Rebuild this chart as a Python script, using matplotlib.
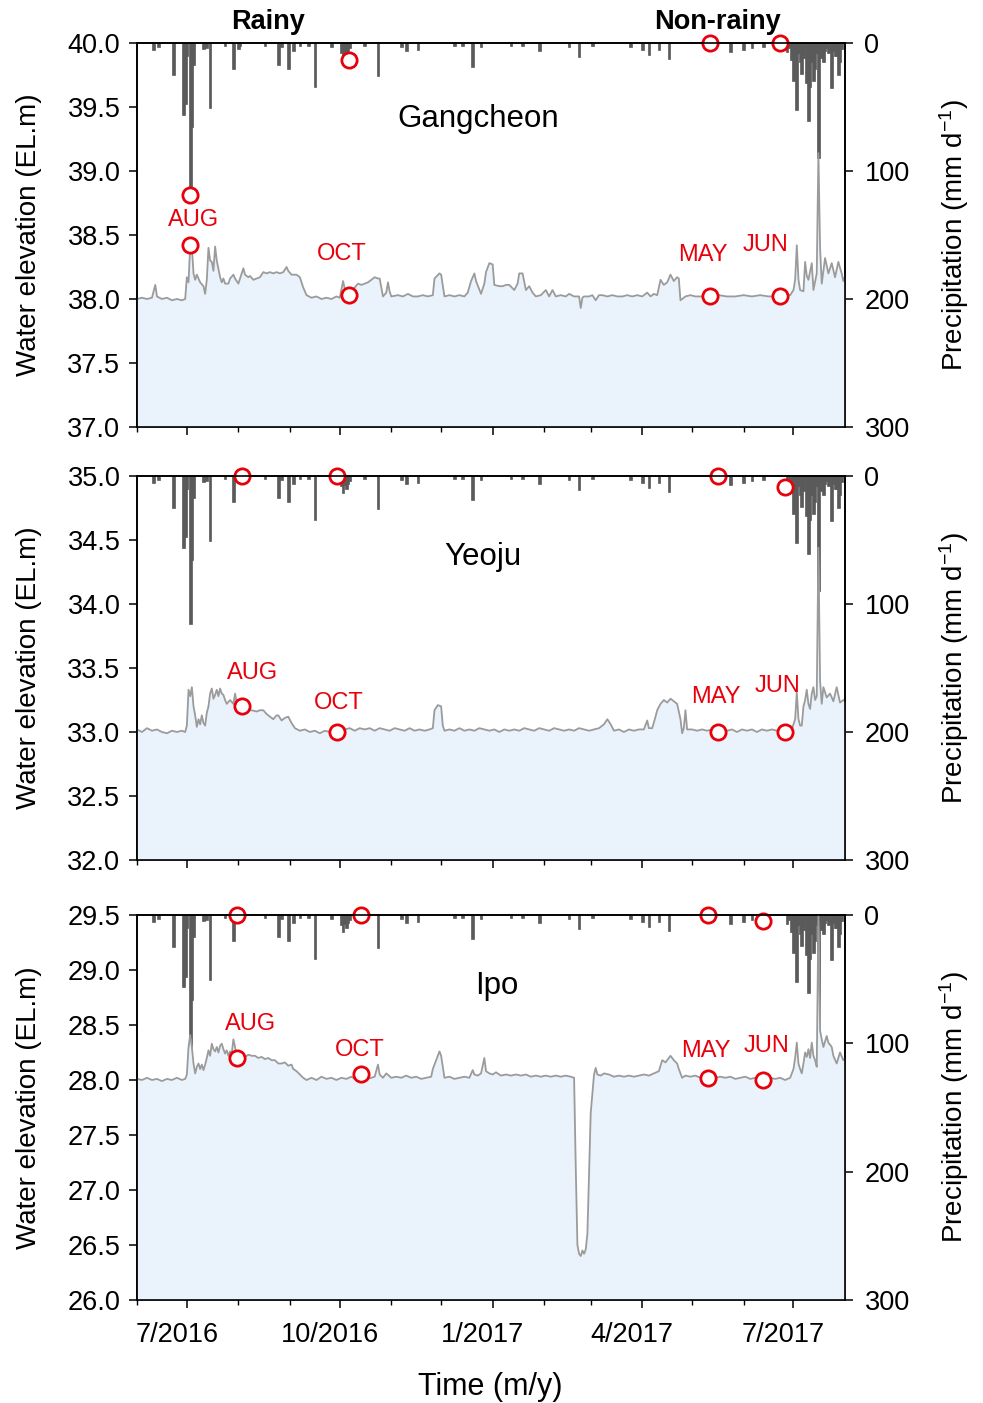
import datetime as dt
import numpy as np
import matplotlib
matplotlib.use("Agg")
import matplotlib.pyplot as plt
import matplotlib.dates as mdates
from matplotlib.ticker import FuncFormatter, FixedLocator, NullFormatter

plt.rcParams['font.family'] = ['Liberation Sans', 'DejaVu Sans']
plt.rcParams['mathtext.default'] = 'regular'

# ---------------- data (days counted from 1 July 2016) ----------------
BASE = dt.date(2016, 7, 1)

rain_day = [-20, -17, -8, -2, -1, 0, 2, 3, 4, 10, 12, 14, 23, 28, 31, 32, 47, 55, 57, 61,
            64, 68, 73, 77, 87, 93, 94, 95, 96, 97, 98, 107, 115, 129, 132, 139, 161, 166,
            172, 177, 195, 202, 212, 230, 236, 244, 267, 274, 278, 284, 290, 327, 335, 340,
            347, 361, 362, 364, 365, 366, 367, 368, 369, 370, 371, 373, 374, 375, 376, 377,
            378, 379, 380, 381, 382, 383, 384, 385, 386, 388, 389, 390, 391, 392, 393, 394]
rain_mm = [5.5, 3, 25, 56, 48, 10, 116, 66, 17, 5, 4, 51, 2, 20, 5, 2, 2, 17, 3, 20,
           6, 2, 2, 34, 3, 8, 13, 7, 10, 6, 4, 2, 26, 3, 6, 5.5, 2, 2,
           18.5, 3, 2, 2, 6, 3, 10.7, 2, 3.5, 5.5, 9.4, 5.5, 12.8, 6.8, 5.5, 4,
           3.4, 6.8, 4, 13, 30, 10, 52, 8, 15, 24, 12, 31, 61, 34, 15, 30,
           20, 8, 90, 5, 12, 15, 6, 4, 8, 35, 6, 10, 10, 25, 15, 5]

gc_day = [-30, -27, -24, -21, -19, -18, -15, -12, -9, -6, -3, -1, 0, 1, 2, 3, 4, 5, 6, 8,
          10, 11, 12, 13, 14, 15, 16, 17, 18, 20, 21, 22, 23, 25, 26, 28, 29, 31, 33, 34,
          35, 37, 38, 40, 42, 44, 46, 48, 50, 52, 54, 56, 58, 60, 61, 63, 66, 68, 70, 72,
          75, 78, 81, 84, 87, 90, 92, 94, 95, 97, 99, 101, 103, 105, 107, 109, 111, 113, 115, 116,
          118, 120, 121, 122, 123, 127, 130, 133, 136, 139, 142, 145, 148, 149, 152, 153, 155, 158, 161, 164,
          167, 169, 171, 173, 174, 177, 179, 180, 182, 184, 185, 188, 190, 192, 194, 197, 199, 200, 202, 204,
          206, 208, 210, 213, 216, 218, 220, 222, 225, 228, 230, 233, 236, 237, 238, 239, 242, 244, 246, 248,
          250, 253, 256, 259, 262, 265, 268, 271, 274, 277, 279, 281, 283, 285, 287, 289, 291, 293, 295, 296,
          297, 300, 303, 306, 310, 315, 320, 325, 330, 335, 340, 345, 350, 355, 360, 363, 365, 366, 367, 368,
          369, 371, 372, 373, 374, 376, 377, 379, 380, 381, 382, 384, 386, 388, 390, 392, 394, 395, 396]
gc_elev = [38.00, 38.01, 38.00, 38.01, 38.11, 38.02, 38.00, 38.01, 37.99, 38.00, 37.99, 38.00, 38.17, 38.13, 38.41, 38.41, 38.20, 38.15, 38.19, 38.13,
           38.10, 38.04, 38.15, 38.40, 38.30, 38.29, 38.22, 38.41, 38.30, 38.17, 38.13, 38.16, 38.12, 38.12, 38.16, 38.19, 38.16, 38.12, 38.20, 38.24,
           38.19, 38.17, 38.18, 38.15, 38.16, 38.17, 38.21, 38.20, 38.21, 38.20, 38.21, 38.20, 38.21, 38.25, 38.22, 38.19, 38.19, 38.17, 38.09, 38.03,
           38.01, 38.02, 38.00, 38.01, 38.00, 38.02, 38.01, 38.14, 38.08, 38.06, 38.07, 38.09, 38.12, 38.11, 38.12, 38.13, 38.15, 38.17, 38.16, 38.16,
           38.02, 38.05, 38.13, 38.06, 38.02, 38.03, 38.02, 38.04, 38.02, 38.02, 38.03, 38.02, 38.03, 38.16, 38.20, 38.19, 38.02, 38.03, 38.02, 38.03,
           38.02, 38.05, 38.14, 38.20, 38.14, 38.04, 38.12, 38.21, 38.28, 38.27, 38.11, 38.10, 38.10, 38.11, 38.11, 38.07, 38.12, 38.20, 38.20, 38.07,
           38.10, 38.05, 38.02, 38.03, 38.07, 38.02, 38.07, 38.02, 38.03, 38.02, 38.04, 38.02, 38.02, 37.93, 38.01, 38.02, 38.02, 38.03, 37.99, 38.03,
           38.03, 38.02, 38.03, 38.02, 38.02, 38.03, 38.02, 38.03, 38.02, 38.05, 38.02, 38.04, 38.03, 38.15, 38.11, 38.13, 38.19, 38.14, 38.17, 38.16,
           37.99, 38.02, 38.03, 38.02, 38.02, 38.02, 38.03, 38.02, 38.02, 38.03, 38.02, 38.03, 38.02, 38.02, 38.02, 38.03, 38.07, 38.15, 38.42, 38.15,
           38.07, 38.06, 38.29, 38.18, 38.15, 38.28, 38.07, 38.20, 39.14, 38.40, 38.12, 38.32, 38.20, 38.28, 38.17, 38.29, 38.20, 38.14, 38.18]

yj_day = [-30, -27, -24, -21, -18, -15, -12, -9, -6, -3, -1, 0, 1, 2, 3, 4, 5, 6, 7, 8,
          9, 10, 11, 12, 13, 14, 15, 16, 17, 18, 19, 20, 21, 22, 23, 24, 26, 28, 29, 30,
          31, 33, 35, 37, 39, 42, 44, 46, 48, 49, 51, 52, 54, 55, 57, 59, 61, 63, 65, 68,
          71, 74, 77, 80, 83, 86, 89, 92, 95, 98, 101, 104, 107, 110, 113, 116, 119, 122, 125, 128,
          131, 134, 137, 140, 143, 146, 148, 149, 151, 153, 154, 155, 158, 161, 164, 167, 170, 173, 176, 179,
          182, 185, 188, 191, 194, 197, 200, 203, 206, 209, 212, 215, 218, 221, 224, 227, 230, 233, 236, 239,
          242, 245, 248, 251, 253, 255, 257, 260, 263, 266, 269, 272, 275, 277, 278, 280, 282, 283, 285, 287,
          289, 291, 293, 295, 297, 298, 299, 300, 301, 304, 307, 310, 313, 316, 319, 322, 325, 328, 331, 334,
          337, 340, 343, 346, 349, 352, 355, 358, 361, 364, 366, 367, 368, 369, 370, 371, 372, 373, 374, 375,
          376, 377, 378, 379, 380, 381, 382, 383, 385, 387, 389, 391, 393, 395, 396]
yj_elev = [33.02, 33.00, 33.03, 33.01, 33.02, 33.00, 32.99, 33.01, 33.00, 33.01, 33.00, 33.05, 33.33, 33.28, 33.35, 33.20, 33.13, 33.04, 33.10, 33.06,
           33.13, 33.07, 33.05, 33.15, 33.20, 33.30, 33.34, 33.26, 33.29, 33.33, 33.28, 33.34, 33.30, 33.29, 33.25, 33.22, 33.25, 33.22, 33.30, 33.23,
           33.25, 33.20, 33.18, 33.17, 33.17, 33.16, 33.17, 33.17, 33.14, 33.13, 33.11, 33.10, 33.13, 33.13, 33.09, 33.11, 33.12, 33.07, 33.03, 33.01,
           33.02, 33.00, 33.01, 32.99, 33.01, 33.00, 33.02, 33.00, 33.02, 33.03, 33.01, 33.03, 33.02, 33.03, 33.01, 33.03, 33.02, 33.01, 33.03, 33.02,
           33.01, 33.03, 33.01, 33.02, 33.01, 33.02, 33.03, 33.17, 33.21, 33.20, 33.05, 33.01, 33.02, 33.01, 33.03, 33.01, 33.02, 33.01, 33.03, 33.02,
           33.01, 33.02, 33.00, 33.02, 33.01, 33.02, 33.01, 33.03, 33.02, 33.01, 33.03, 33.02, 33.01, 33.03, 33.02, 33.01, 33.02, 33.01, 33.03, 33.02,
           33.01, 33.02, 33.03, 33.06, 33.10, 33.06, 33.01, 33.02, 33.00, 33.02, 33.01, 33.02, 33.02, 33.09, 33.03, 33.03, 33.12, 33.17, 33.22, 33.25,
           33.23, 33.26, 33.24, 33.22, 33.10, 32.99, 33.03, 33.17, 33.02, 33.02, 33.01, 33.02, 33.01, 33.02, 33.00, 33.02, 33.01, 33.02, 33.00, 33.02,
           33.01, 33.02, 33.00, 33.02, 33.01, 33.02, 33.01, 33.02, 33.00, 33.02, 33.10, 33.31, 33.10, 33.05, 33.05, 33.20, 33.25, 33.33, 33.22, 33.18,
           33.30, 33.35, 33.25, 33.28, 34.44, 33.40, 33.22, 33.35, 33.27, 33.30, 33.24, 33.35, 33.23, 33.25, 33.24]

ip_day = [-30, -27, -24, -21, -18, -15, -12, -9, -6, -3, -1, 0, 1, 2, 3, 4, 5, 6, 7, 8,
          9, 10, 11, 12, 13, 14, 15, 16, 17, 18, 19, 20, 21, 22, 23, 24, 25, 26, 27, 28,
          29, 30, 32, 34, 35, 37, 39, 41, 43, 45, 47, 49, 51, 53, 55, 57, 59, 61, 63, 64,
          66, 68, 70, 72, 75, 78, 81, 84, 87, 90, 93, 96, 99, 102, 104, 106, 108, 111, 113, 115,
          116, 118, 120, 123, 126, 129, 132, 135, 138, 141, 144, 147, 148, 150, 152, 153, 155, 158, 161, 164,
          167, 170, 172, 173, 175, 177, 179, 180, 182, 184, 186, 189, 192, 195, 198, 201, 204, 207, 210, 213,
          216, 219, 222, 225, 228, 231, 233, 234, 235, 236, 237, 238, 239, 240, 241, 243, 245, 246, 247, 249,
          251, 254, 257, 260, 263, 266, 269, 272, 275, 278, 281, 284, 286, 288, 290, 291, 293, 295, 296, 298,
          300, 303, 306, 309, 312, 315, 318, 321, 324, 327, 330, 333, 336, 339, 342, 345, 348, 351, 354, 357,
          360, 363, 365, 366, 367, 368, 369, 370, 371, 372, 373, 374, 375, 376, 377, 378, 379, 380, 381, 382,
          383, 385, 386, 388, 389, 391, 393, 395, 396]
ip_elev = [28.01, 28.00, 28.02, 28.00, 28.01, 27.99, 28.01, 28.00, 28.02, 28.00, 28.01, 28.05, 28.30, 28.41, 28.30, 28.15, 28.06, 28.12, 28.15, 28.10,
           28.14, 28.09, 28.14, 28.20, 28.27, 28.22, 28.33, 28.28, 28.26, 28.30, 28.25, 28.31, 28.33, 28.28, 28.24, 28.27, 28.22, 28.26, 28.24, 28.37,
           28.30, 28.20, 28.17, 28.20, 28.21, 28.23, 28.22, 28.22, 28.20, 28.21, 28.19, 28.20, 28.18, 28.18, 28.15, 28.15, 28.16, 28.13, 28.14, 28.10,
           28.08, 28.05, 28.02, 28.00, 28.02, 28.00, 28.03, 28.01, 28.02, 28.00, 28.02, 28.01, 28.03, 28.00, 28.02, 28.04, 28.01, 28.02, 28.03, 28.14,
           28.05, 28.02, 28.06, 28.02, 28.03, 28.02, 28.04, 28.02, 28.03, 28.01, 28.02, 28.03, 28.10, 28.18, 28.26, 28.22, 28.02, 28.03, 28.01, 28.02,
           28.03, 28.02, 28.09, 28.05, 28.04, 28.06, 28.20, 28.08, 28.06, 28.05, 28.07, 28.04, 28.05, 28.04, 28.05, 28.04, 28.05, 28.03, 28.04, 28.03,
           28.04, 28.03, 28.04, 28.03, 28.04, 28.03, 28.02, 27.20, 26.50, 26.42, 26.40, 26.45, 26.42, 26.46, 26.60, 27.70, 28.05, 28.11, 28.05, 28.04,
           28.06, 28.05, 28.03, 28.04, 28.03, 28.04, 28.03, 28.04, 28.05, 28.04, 28.06, 28.08, 28.18, 28.16, 28.20, 28.22, 28.18, 28.15, 28.10, 28.02,
           28.04, 28.03, 28.04, 28.02, 28.03, 28.01, 28.02, 28.03, 28.02, 28.03, 28.01, 28.02, 28.03, 28.01, 28.02, 28.00, 28.01, 28.02, 28.01, 28.02,
           28.00, 28.02, 28.10, 28.20, 28.34, 28.15, 28.10, 28.06, 28.15, 28.25, 28.21, 28.28, 28.20, 28.34, 28.22, 28.18, 28.12, 29.50, 28.45, 28.37,
           28.30, 28.40, 28.34, 28.30, 28.22, 28.15, 28.25, 28.18, 28.20]

sample_months = ['AUG', 'OCT', 'MAY', 'JUN']
gc_sample_day = [1.8, 97.5, 315.0, 357.1]
gc_sample_elev = [38.42, 38.03, 38.02, 38.02]
gc_sample_rain = [118.8, 13.3, 0, 0]
yj_sample_day = [33.1, 90.3, 319.5, 359.8]
yj_sample_elev = [33.20, 33.00, 33.00, 33.00]
yj_sample_rain = [0, 0, 0, 8.6]
ip_sample_day = [30.1, 104.7, 313.5, 346.6]
ip_sample_elev = [28.20, 28.05, 28.02, 28.00]
ip_sample_rain = [0, 0, 0, 4.7]

site_names = ['Gangcheon', 'Yeoju', 'Ipo']
tick_months = [(2016, 7), (2016, 10), (2017, 1), (2017, 4), (2017, 7)]

# ---------------- styling / layout ----------------
RED = '#e8000b'
LINE = '#9b9b9b'
FILL = '#eaf3fb'
BAR = '#5a5a5a'
W, H = 983, 1403

base_num = mdates.date2num(BASE)


def xn(days):
    return base_num + np.asarray(days, dtype=float)


panels = [
    dict(name=site_names[0], day=gc_day, elev=gc_elev, ylim=(37.0, 40.0),
         yticks=[37.0, 37.5, 38.0, 38.5, 39.0, 39.5, 40.0], top=43, bot=427,
         sday=gc_sample_day, selev=gc_sample_elev, srain=gc_sample_rain,
         lab_xy=[(4.2, 38.62), (93.3, 38.35), (310.5, 38.34), (348.4, 38.42)],
         title_xy=(175.5, 39.41)),
    dict(name=site_names[1], day=yj_day, elev=yj_elev, ylim=(32.0, 35.0),
         yticks=[32.0, 32.5, 33.0, 33.5, 34.0, 34.5, 35.0], top=476, bot=860,
         sday=yj_sample_day, selev=yj_sample_elev, srain=yj_sample_rain,
         lab_xy=[(39.7, 33.46), (91.5, 33.23), (318.3, 33.27), (355.6, 33.36)],
         title_xy=(178.0, 34.37)),
    dict(name=site_names[2], day=ip_day, elev=ip_elev, ylim=(26.0, 29.5),
         yticks=[26.0, 26.5, 27.0, 27.5, 28.0, 28.5, 29.0, 29.5], top=915, bot=1300,
         sday=ip_sample_day, selev=ip_sample_elev, srain=ip_sample_rain,
         lab_xy=[(38.5, 28.51), (104.1, 28.27), (312.3, 28.26), (349.0, 28.31)],
         title_xy=(186.5, 28.85)),
]

fig = plt.figure(figsize=(W / 100, H / 100), dpi=100)
left, right = 137 / W, 845 / W
axw_px = 845 - 137

xmin, xmax = mdates.date2num(dt.date(2016, 6, 1)), mdates.date2num(dt.date(2017, 8, 1))
major = [mdates.date2num(dt.date(y, m, 1)) for (y, m) in tick_months]
minor = [mdates.date2num(dt.date(2016 + (m - 1) // 12, (m - 1) % 12 + 1, 1)) for m in range(6, 20)]

for i, p in enumerate(panels):
    hpx = p['bot'] - p['top']
    ax = fig.add_axes([left, 1 - p['bot'] / H, right - left, hpx / H])
    axr = ax.twinx()
    ax.set_zorder(axr.get_zorder() + 1)
    ax.patch.set_visible(False)

    # precipitation bars (inverted right axis)
    axr.bar(xn(rain_day), rain_mm, width=1.6, color=BAR, edgecolor=BAR, linewidth=0.5,
            align='center')
    axr.set_ylim(300, 0)
    axr.set_yticks([0, 100, 200, 300])
    axr.plot(xn(p['sday']), p['srain'], 'o', ms=11, mfc='white', mec=RED, mew=2.0,
             clip_on=False, zorder=5)

    # water elevation
    xe = xn(p['day'])
    ax.fill_between(xe, p['elev'], p['ylim'][0], color=FILL, lw=0, zorder=1)
    ax.plot(xe, p['elev'], color=LINE, lw=1.3, zorder=2)
    ax.plot(xn(p['sday']), p['selev'], 'o', ms=11, mfc='white', mec=RED, mew=2.0,
            clip_on=False, zorder=5)
    for (lx, ly), lab in zip(p['lab_xy'], sample_months):
        ax.text(base_num + lx, ly, lab, color=RED, fontsize=17, ha='center', va='center',
                zorder=6)
    tx, ty = p['title_xy']
    ax.text(base_num + tx, ty, p['name'], fontsize=22.5, ha='center', va='center')

    ax.set_ylim(*p['ylim'])
    ax.set_yticks(p['yticks'])
    ax.yaxis.set_major_formatter(FuncFormatter(lambda v, pos: f"{v:.1f}"))
    ax.set_xlim(xmin, xmax)
    ax.xaxis.set_major_locator(FixedLocator(major))
    ax.xaxis.set_minor_locator(FixedLocator(minor))
    ax.xaxis.set_major_formatter(NullFormatter())
    if i == 2:
        # month/year labels, set slightly left of their ticks as in the original
        for (y, m), xv in zip(tick_months, major):
            ax.text(xv - 6.0, -35 / hpx, f"{m}/{y}", transform=ax.get_xaxis_transform(),
                    fontsize=19.5, ha='center', va='center')

    ax.tick_params(axis='y', direction='out', length=6, width=1.1, labelsize=19.5, pad=6)
    ax.tick_params(axis='x', which='major', direction='out', length=6, width=1.1)
    ax.tick_params(axis='x', which='minor', direction='out', length=3.5, width=1.0)
    axr.tick_params(axis='y', direction='out', length=6, width=1.1, labelsize=19.5, pad=8)
    for a in (ax, axr):
        for s in a.spines.values():
            s.set_linewidth(1.2)

    ax.set_ylabel('Water elevation (EL.m)', fontsize=20)
    ax.yaxis.set_label_coords(-(137 - 42) / axw_px, 0.5)
    axr.set_ylabel('Precipitation (mm d$^{-1}$)', fontsize=20, rotation=90)
    axr.yaxis.set_label_coords(1 + (937 - 845) / axw_px, 0.5)

    if i == 0:
        fig.text(268 / W, 1 - 22 / H, 'Rainy', fontsize=19.5, fontweight='bold',
                 ha='center', va='center')
        fig.text(718 / W, 1 - 22 / H, 'Non-rainy', fontsize=19.5, fontweight='bold',
                 ha='center', va='center')

fig.text(490 / W, 1 - 1387 / H, 'Time (m/y)', fontsize=22, ha='center', va='center')

fig.savefig('out.png', dpi=100)
